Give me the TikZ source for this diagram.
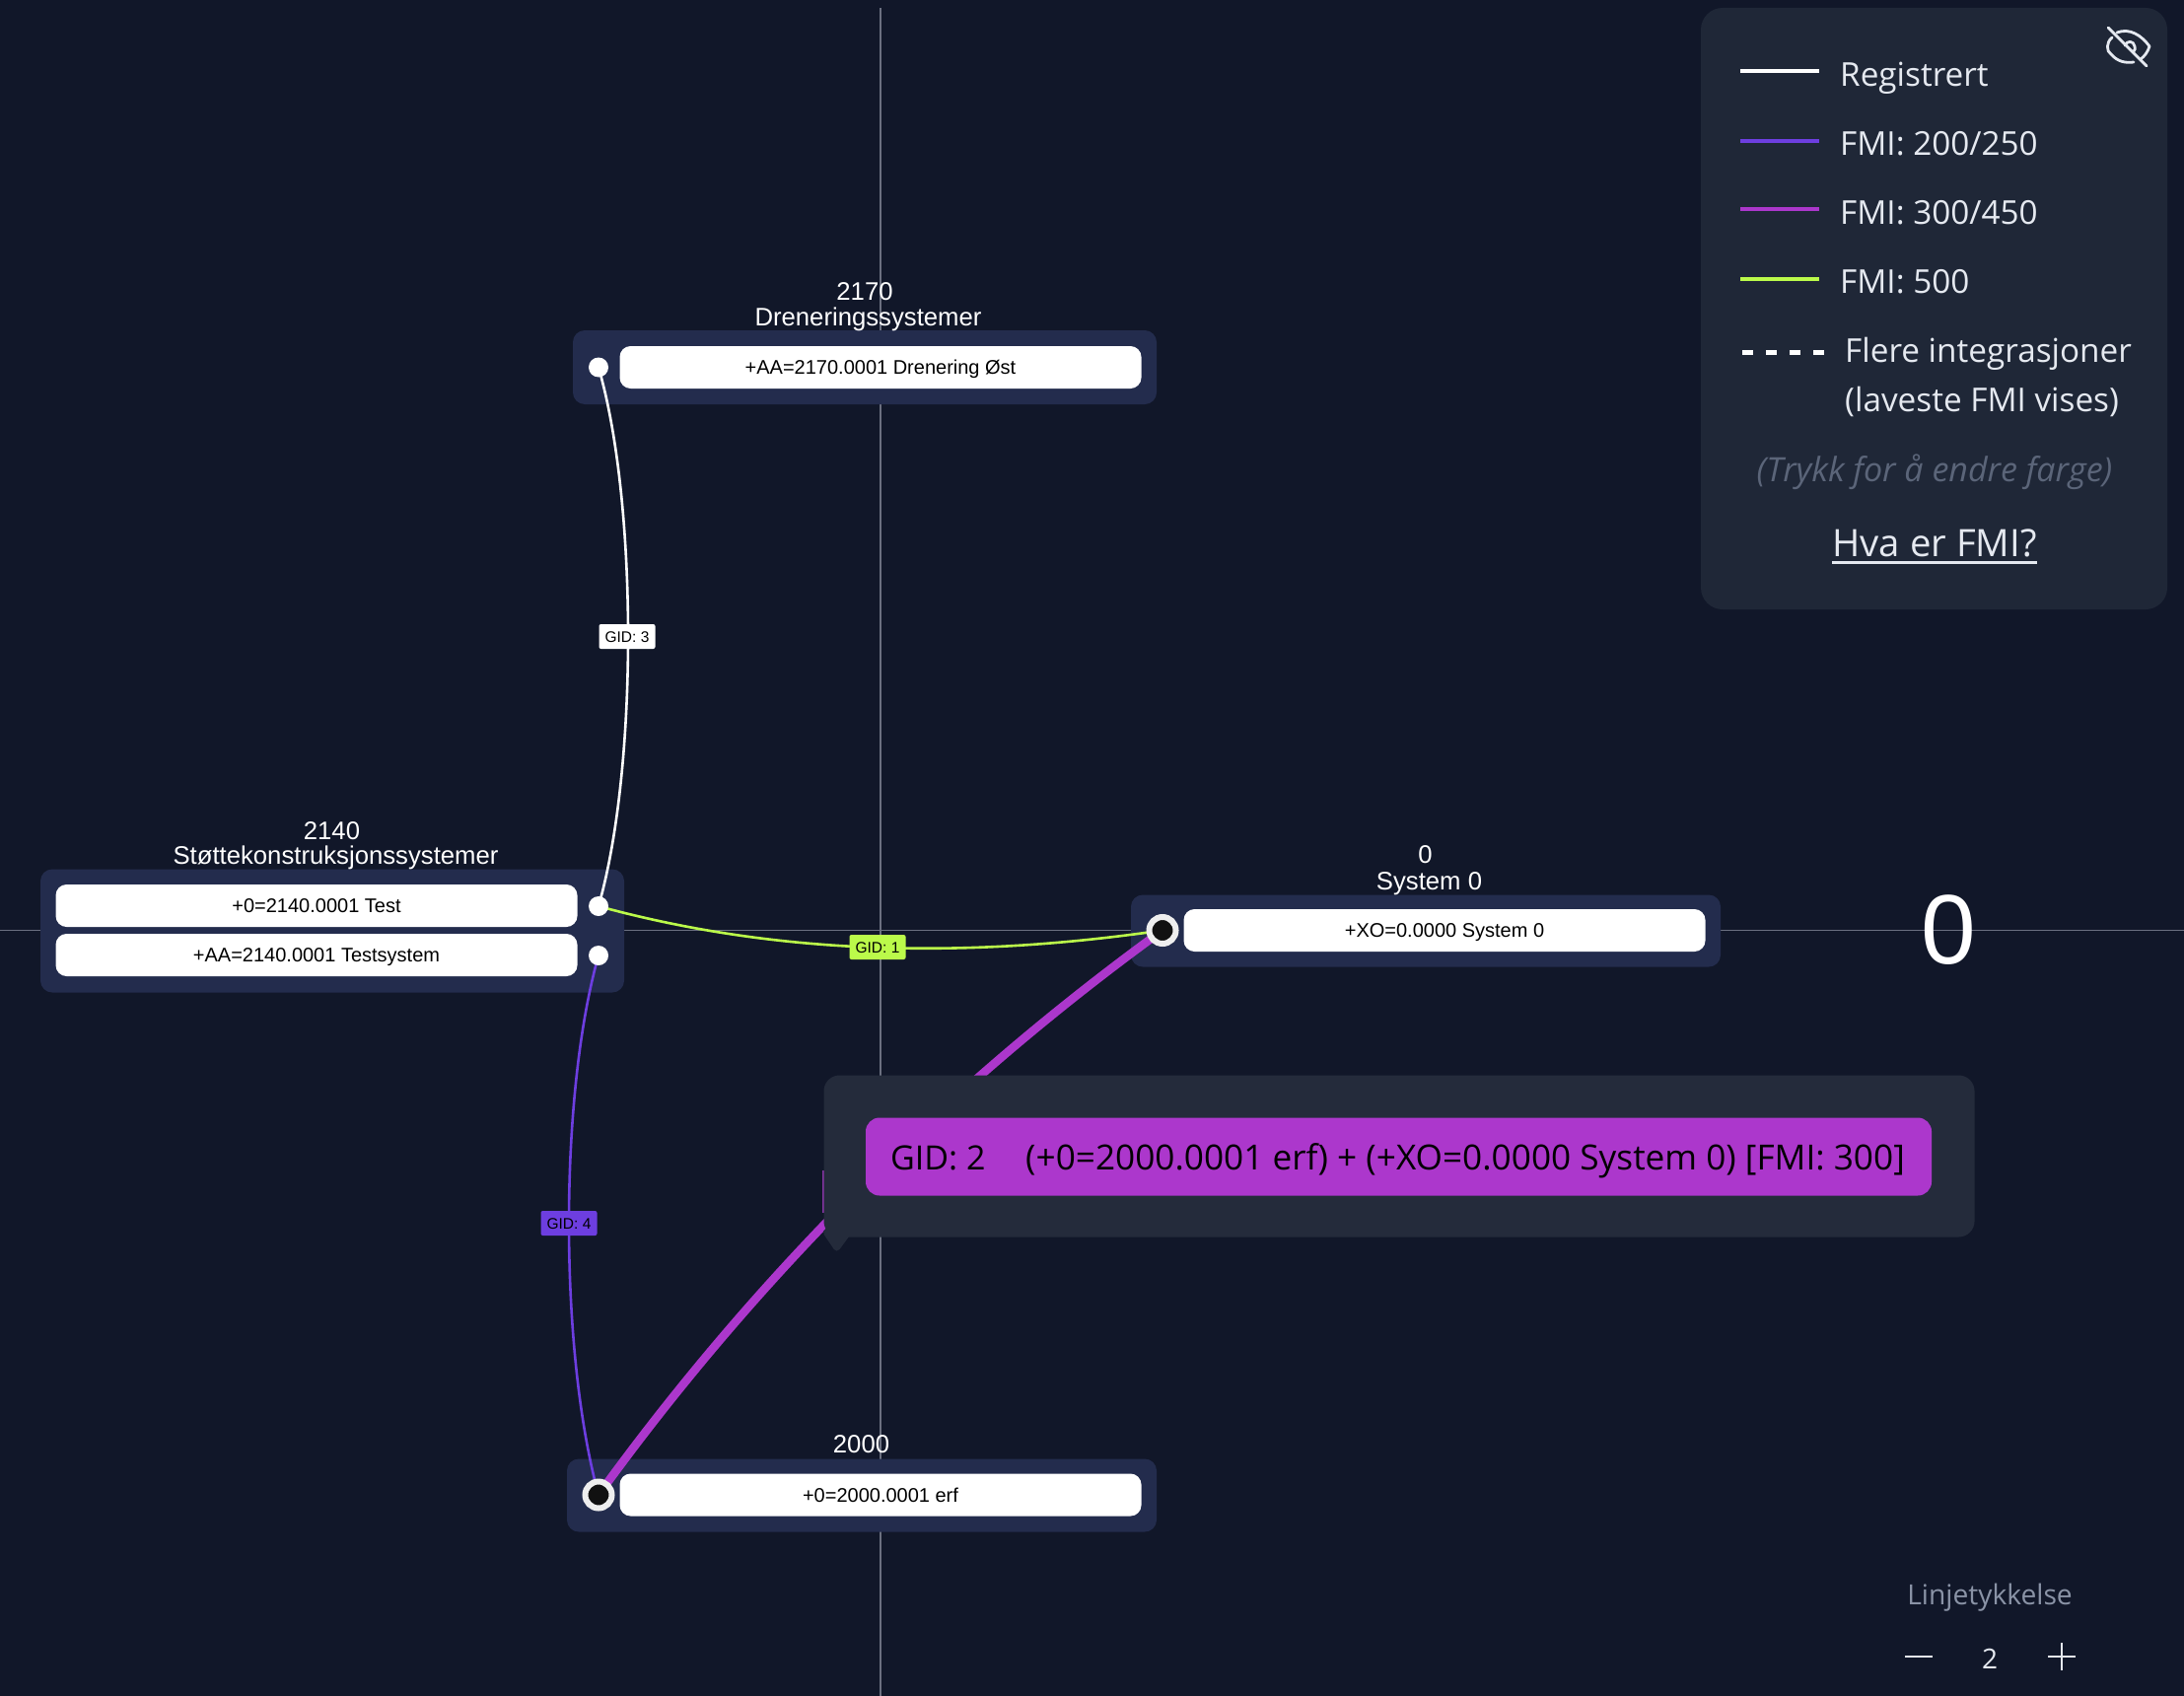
\documentclass[tikz,border=0pt]{standalone}
\usepackage{fontspec}
\setmainfont{Liberation Sans}
\newfontfamily\uifont{Open Sans}
\newcommand\fsz[1]{\fontsize{#1}{#1}\selectfont}
\definecolor{bgc}{HTML}{111729}
\definecolor{panelc}{HTML}{232C4D}
\definecolor{legc}{HTML}{1F2737}
\definecolor{tipc}{HTML}{242B3B}
\definecolor{axisc}{HTML}{6B7080}
\definecolor{txtc}{HTML}{E5E9F0}
\definecolor{dimc}{HTML}{5B6579}
\definecolor{grayc}{HTML}{8A93A6}
\definecolor{fmiw}{HTML}{FFFFFF}
\definecolor{fmia}{HTML}{6D3EE0}
\definecolor{fmib}{HTML}{AC37CC}
\definecolor{fmic}{HTML}{BBFA4A}
\definecolor{inkc}{HTML}{111111}
\definecolor{ringc}{HTML}{EEEEEE}
\pgfdeclarelayer{bgl}\pgfdeclarelayer{conn}\pgfdeclarelayer{top}
\pgfsetlayers{bgl,conn,main,top}
\tikzset{
 panel/.style={fill=panelc,rounded corners=12pt,inner sep=0pt},
 itembox/.style={fill=white,rounded corners=11pt,minimum width=529pt,minimum height=43pt,inner sep=0pt,text=black,font=\fsz{20},text height=19pt,text depth=5pt},
 title/.style={text=white,font=\fsz{25.7},inner sep=0pt,anchor=base},
 port/.style={circle,fill=white,minimum size=20pt,inner sep=0pt},
 activeport/.style={circle,fill=inkc,draw=ringc,line width=6pt,minimum size=27pt,inner sep=0pt},
 gidlabel/.style={rounded corners=2pt,inner sep=0pt,minimum width=57pt,minimum height=25pt,font=\fsz{15.5},text=black,text height=15pt,text depth=4pt},
 leg/.style={line width=4.4pt},
 legtext/.style={text=txtc,font=\uifont\fsz{33.3},inner sep=0pt,anchor=base west},
 link/.style={line width=2.6pt},
}
\begin{document}
\begin{tikzpicture}[x=1pt,y=-1pt]
\useasboundingbox (0,0) rectangle (2215,1720);
\begin{pgfonlayer}{bgl}
\fill[bgc] (0,0) rectangle (2215,1720);
\draw[axisc,line width=1.4pt] (893,8) -- (893,1720);
\draw[axisc,line width=1.4pt] (0,943.5) -- (2215,943.5);
\node[panel,minimum width=592pt,minimum height=75pt] (g2170) at (877,372.5) {};
\node[panel,minimum width=592pt,minimum height=125pt] (g2140) at (337,944) {};
\node[panel,minimum width=598pt,minimum height=73pt] (g0) at (1446,944) {};
\node[panel,minimum width=598pt,minimum height=74pt] (g2000) at (874,1516.5) {};
\end{pgfonlayer}

% titles
\node[title] (t2170a) at (877,304) {2170};
\node[title] (t2170b) at (880.5,330) {Dreneringssystemer};
\node[title] (t2140a) at (336.5,851) {2140};
\node[title] (t2140b) at (340.5,876) {Støttekonstruksjonssystemer};
\node[title] (t0a) at (1445.5,875) {0};
\node[title] (t0b) at (1449.5,902) {System 0};
\node[title] (t2000) at (873.5,1473.5) {2000};

% item boxes
\node[itembox] (i2170) at (893,372.5) {+AA=2170.0001 Drenering Øst};
\node[itembox] (i2140a) at (321,918.5) {+0=2140.0001 Test};
\node[itembox] (i2140b) at (321,968.5) {+AA=2140.0001 Testsystem};
\node[itembox] (i0) at (1465,943.5) {+XO=0.0000 System 0};
\node[itembox] (i2000) at (893,1516) {+0=2000.0001 erf};

% ports
\node[port] (p2170) at (607,372.5) {};
\node[port] (p2140a) at (607,919) {};
\node[port] (p2140b) at (607,969) {};
\node[activeport] (p0) at (1179,943.5) {};
\node[activeport] (p2000) at (607,1516) {};

\begin{pgfonlayer}{conn}
\draw[link,fmiw] (p2170.center) .. controls (647,510) and (647,780) .. (p2140a.center);
\draw[link,fmia] (p2140b.center) .. controls (567,1110) and (567,1370) .. (p2000.center);
\draw[link,fmic] (p2140a.center) .. controls (797,971) and (990,971) .. (p0.center);
\draw[line width=8.5pt,fmib] (p2000.center) .. controls (767,1295) and (959,1103) .. (p0.center);
\end{pgfonlayer}

% connector labels
\node[gidlabel,fill=white] (l3) at (636,645.5) {GID: 3};
\node[gidlabel,fill=fmic] (l1) at (890,960.5) {GID: 1};
\node[gidlabel,fill=fmia] (l4) at (577,1240.5) {GID: 4};

% big zero
\node[text=white,font=\fsz{100},inner sep=0pt,anchor=base] (bigzero) at (1976.5,977) {0};

% legend
\node[fill=legc,rounded corners=22pt,minimum width=473pt,minimum height=610pt,inner sep=0pt] (legend) at (1961.5,313) {};
\begin{scope}[txtc,line width=2.8pt,line cap=round,line join=round]
\draw (2142,38) .. controls (2136,43) and (2136,52) .. (2141,55) .. controls (2148,63) and (2156,64) .. (2164,63);
\draw (2147,33) .. controls (2160,28) and (2172,36) .. (2180,47) .. controls (2178,53) and (2175,57) .. (2171,60);
\draw (2155,46) .. controls (2157,41) and (2164,41) .. (2165,47) .. controls (2166,49) and (2165,51) .. (2164,52);
\draw (2138,28) -- (2177,67);
\end{scope}
\coordinate (la1) at (1765,72); \coordinate (lb1) at (1845,72);
\coordinate (la2) at (1765,143); \coordinate (lb2) at (1845,143);
\coordinate (la3) at (1765,212); \coordinate (lb3) at (1845,212);
\coordinate (la4) at (1765,283); \coordinate (lb4) at (1845,283);
\coordinate (la5) at (1767,357.5); \coordinate (lb5) at (1850,357.5);
\draw[leg,white] (la1) -- (lb1);
\draw[leg,fmia] (la2) -- (lb2);
\draw[leg,fmib] (la3) -- (lb3);
\draw[leg,fmic] (la4) -- (lb4);
\draw[leg,white,dash pattern=on 11pt off 13pt] (la5) -- (lb5);
\node[legtext] (lt1) at (1866,88) {Registrert};
\node[legtext] (lt2) at (1866,158) {FMI: 200/250};
\node[legtext] (lt3) at (1866,228) {FMI: 300/450};
\node[legtext] (lt4) at (1866,297.5) {FMI: 500};
\node[legtext] (lt5) at (1871,367.5) {Flere integrasjoner};
\node[legtext] (lt6) at (1871,417.5) {(laveste FMI vises)};
\node[text=dimc,font=\uifont\itshape\fsz{34},inner sep=0pt,anchor=base] (lt7) at (1962,488) {(Trykk for å endre farge)};
\node[text=txtc,font=\uifont\fsz{38.3},inner sep=0pt,anchor=base] (lt8) at (1962,564.5) {Hva er FMI?};
\draw[txtc,line width=2.5pt] (1858,570.5) -- (2066,570.5);

% line thickness control
\node[text=grayc,font=\uifont\fsz{28.2},inner sep=0pt,anchor=base] (lk) at (2018,1627) {Linjetykkelse};
\node[text=txtc,font=\uifont\fsz{28},inner sep=0pt,anchor=base] (lk2) at (2018,1692) {2};
\draw[txtc,line width=2.2pt] (1932,1680) -- (1960,1680);
\draw[txtc,line width=2.2pt] (2077,1680) -- (2105,1680) (2091,1666) -- (2091,1694);

% tooltip
\begin{pgfonlayer}{top}
\draw[fmib!70!tipc,line width=1.2pt] (835,1187) -- (835,1230);
\fill[tipc,rounded corners=5pt] (833,1248) -- (848.5,1271) -- (864,1250) -- (850,1240) -- cycle;
\node[fill=tipc,rounded corners=16pt,minimum width=1167pt,minimum height=164pt,inner sep=0pt] (tip) at (1419,1172.5) {};
\node[fill=fmib,rounded corners=14pt,minimum width=1081pt,minimum height=79pt,inner sep=0pt] (tipin) at (1418.5,1173) {};
\node[text=black,font=\uifont\fsz{34},inner sep=0pt,anchor=base west] (tip1) at (903,1186.5) {GID: 2};
\node[text=black,font=\uifont\fsz{35.2},inner sep=0pt,anchor=base west] (tip2) at (1040,1186.5) {(+0=2000.0001 erf) + (+XO=0.0000 System 0) [FMI: 300]};
\end{pgfonlayer}
\end{tikzpicture}
\end{document}
